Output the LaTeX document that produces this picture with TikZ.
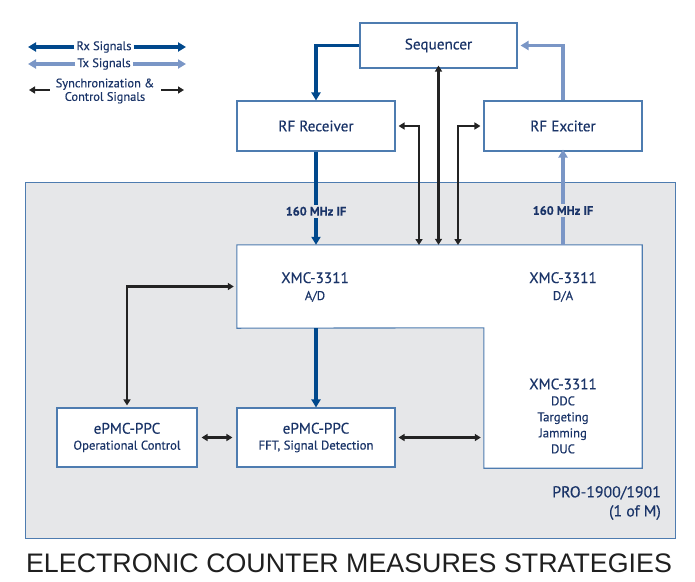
\documentclass[tikz,border=0pt]{standalone}
\usepackage{fontspec}
\setmainfont{PT Sans}[FakeBold=0.35]
\newfontfamily\titlefont{Liberation Sans}
\usetikzlibrary{arrows.meta,positioning,calc}
\definecolor{rxblue}{RGB}{0,72,140}
\definecolor{txblue}{RGB}{122,150,198}
\definecolor{boxblue}{RGB}{78,124,176}
\definecolor{txtblue}{RGB}{26,52,104}
\definecolor{panelgrey}{RGB}{230,231,233}
\definecolor{syncblack}{RGB}{35,35,35}
\newcommand{\subsz}{\fontsize{12.7}{17}\selectfont}

\begin{document}
\begin{tikzpicture}[x=1pt, y=-1pt,
    box/.style={rectangle, draw=boxblue, fill=white, line width=1.1pt, text=txtblue, align=center, inner sep=0pt, font=\fontsize{15.2}{17}\selectfont},
    part/.style={rectangle, fill=white, inner sep=0pt},
    lbl/.style={text=txtblue, align=center, inner sep=0pt, font=\fontsize{15.2}{19}\selectfont},
    rx/.style={draw=rxblue, line width=3.4pt, -{Triangle[length=8pt, width=9pt]}},
    tx/.style={draw=txblue, line width=3.4pt, -{Triangle[length=8pt, width=9pt]}},
    sync/.style={draw=syncblack, line width=2.2pt, {Triangle[length=6pt, width=7pt]}-{Triangle[length=6pt, width=7pt]}},
    iflbl/.style={fill=panelgrey, text=txtblue, inner sep=2pt, font=\bfseries\fontsize{12.3}{13}\selectfont},
    legend/.style={text=txtblue, align=center, inner sep=2pt, font=\fontsize{12.4}{13.5}\selectfont}]

    \useasboundingbox (0,0) rectangle (695,581);

    % system panel
    \node[rectangle, draw=boxblue, fill=panelgrey, line width=0.9pt, minimum width=650pt, minimum height=356pt] (panel) at (350,360) {};
    \node[lbl, anchor=east, align=right, font=\fontsize{15.8}{19}\selectfont] (pro) at (661,503) {PRO-1900/1901\\(1 of M)};

    % legend
    \node[legend] (rxleg) at (104,47) {Rx Signals};
    \node[legend] (txleg) at (104,64) {Tx Signals};
    \node[legend] (syncleg) at (105,91) {Synchronization \&\\Control Signals};
    \coordinate (rxl) at (28,47);   \coordinate (rxr) at (186,47);
    \coordinate (txl) at (28,64);   \coordinate (txr) at (186,64);
    \coordinate (syl) at (29,90);   \coordinate (syr) at (184,90);
    \draw[rx] (rxleg.west) -- (rxl);
    \draw[rx] (rxleg.east) -- (rxr);
    \draw[tx] (txleg.west) -- (txl);
    \draw[tx] (txleg.east) -- (txr);
    \draw[sync, {Triangle[length=6pt, width=7pt]}-] (syl) -- ++(21,0) coordinate (sylend);
    \draw[sync, -{Triangle[length=6pt, width=7pt]}] (syr) ++(-23,0) coordinate (syrend) -- (syr);

    % RF chain
    \node[box, minimum width=157pt, minimum height=45pt] (seq) at (438.5,45.5) {Sequencer};
    \node[box, minimum width=158pt, minimum height=50pt] (rfrx) at (316,126) {RF Receiver};
    \node[box, minimum width=158pt, minimum height=50pt] (rfex) at (563,126) {RF Exciter};

    % XMC-3311 (L-shaped)
    \node[part, minimum width=405pt, minimum height=83pt] (xmc) at (439.5,286.5) {};
    \node[part, minimum width=158pt, minimum height=140pt] (ddc) at (563,398) {};
    \draw[boxblue, line width=1.1pt] (xmc.north west) -- (xmc.north east) -- (ddc.south east)
        -- (ddc.south west) -- (ddc.north west) -- (xmc.south west) -- cycle;
    \node[lbl] (adlbl) at (315,287) {XMC-3311\\[-2pt]{\subsz A/D}};
    \node[lbl] (dalbl) at (563,287) {XMC-3311\\[-2pt]{\subsz D/A}};
    \node[lbl] (ddclbl) at (563,416) {XMC-3311\\[-3pt]{\subsz DDC}\\[-3pt]{\subsz Targeting}\\[-3pt]{\subsz Jamming}\\[-3pt]{\subsz DUC}};

    % ePMC-PPC
    \node[box, minimum width=140pt, minimum height=59pt] (opctl) at (127,437.5) {ePMC-PPC\\[-1pt]{\subsz Operational Control}};
    \node[box, minimum width=158pt, minimum height=59pt] (fft) at (316,437.5) {ePMC-PPC\\[-1pt]{\subsz FFT, Signal Detection}};

    % Rx / Tx signals
    \draw[rx] (seq.west) -| (rfrx.north);
    \draw[tx] (rfex.north) |- ([xshift=3pt]seq.east);
    \draw[rx] (rfrx.south) -- (rfrx.south |- xmc.north) node[iflbl, pos=0.64] {160 MHz IF};
    \draw[tx] (rfex.south |- xmc.north) -- ([yshift=2pt]rfex.south) node[iflbl, pos=0.36] {160 MHz IF};
    \draw[rx] (xmc.south -| fft.north) -- (fft.north);

    % synchronization & control
    \coordinate (synl) at (419,245);
    \coordinate (synr) at (458,245);
    \draw[sync] ([xshift=3pt]rfrx.east) -| (synl);
    \draw[sync] ([xshift=-3pt]rfex.west) -| (synr);
    \draw[sync] ([yshift=3pt]seq.south) -- (seq.south |- xmc.north);
    \draw[sync] ([yshift=2pt]opctl.north) |- ([xshift=-3pt]xmc.west);
    \draw[sync, shorten <=4pt, shorten >=4pt] (opctl.east) -- (fft.west);
    \draw[sync, shorten <=3pt, shorten >=3pt] (fft.east) -- (fft.east -| ddc.west);

    % caption
    \node[font=\titlefont\fontsize{26.8}{30}\selectfont, text=black!88, inner sep=0pt] (title) at (349,563) {ELECTRONIC COUNTER MEASURES STRATEGIES};
\end{tikzpicture}
\end{document}
